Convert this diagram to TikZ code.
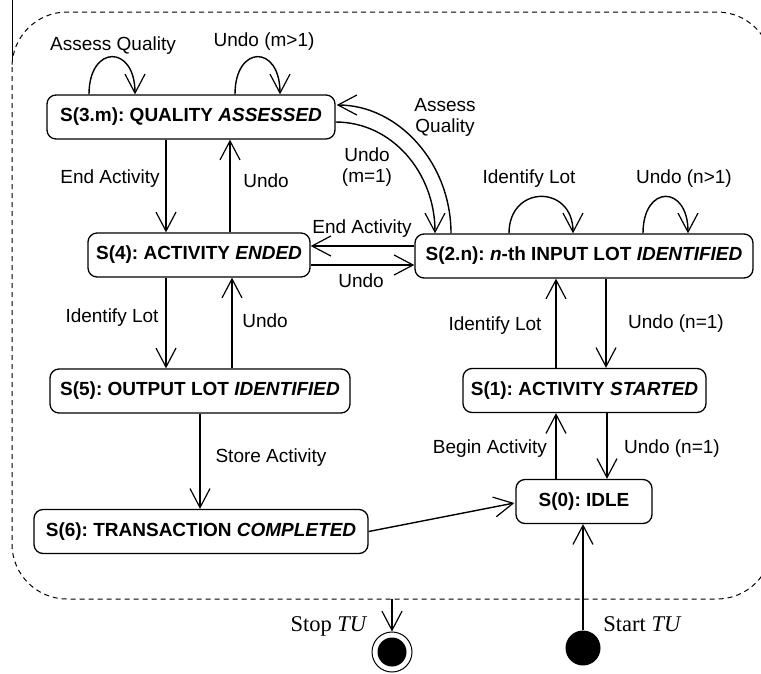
\documentclass[tikz,border=0pt]{standalone}
\usepackage{fontspec}
\setmainfont{Liberation Sans}
\newfontfamily\serifface{Liberation Serif}
\usetikzlibrary{arrows.meta,calc}

\tikzset{
  state/.style={draw, rounded corners=9pt, line width=1.3pt, minimum height=44pt,
    inner sep=0pt, font=\fontsize{19}{22}\selectfont\bfseries\frenchspacing},
  tr/.style={line width=1.4pt, -{Straight Barb[length=19pt,width=20pt,line width=1.2pt]}},
  lab/.style={font=\fontsize{19}{21}\selectfont, inner sep=0pt, align=center},
  ext/.style={font=\fontsize{22.5}{26}\selectfont\serifface, inner sep=0pt},
  frame/.style={line width=1pt, dash pattern=on 5pt off 4pt, rounded corners=55pt},
}

\begin{document}
\begin{tikzpicture}[x=1pt,y=-1pt]
\useasboundingbox (0,0) rectangle (761,673);
\clip (0,0) rectangle (761,673);

% enclosing super-state
\draw[frame] (12,12) rectangle (772,599);
\draw[line width=1pt] (12,0) -- (12,60);

% states
\node[state, minimum width=288pt] (s3) at (191,117) {S(3.m): QUALITY \textit{ASSESSED}};
\node[state, minimum width=222pt] (s4) at (199,255) {S(4): ACTIVITY \textit{ENDED}};
\node[state, minimum width=338pt] (s2) at (584,256) {S(2.n): \textit{n}-th INPUT LOT \textit{IDENTIFIED}};
\node[state, minimum width=300pt] (s5) at (200,391) {S(5): OUTPUT LOT \textit{IDENTIFIED}};
\node[state, minimum width=243pt] (s1) at (584.5,390.5) {S(1): ACTIVITY \textit{STARTED}};
\node[state, minimum width=136pt] (s0) at (584,501.5) {S(0): IDLE};
\node[state, minimum width=334pt] (s6) at (201,531.5) {S(6): TRANSACTION \textit{COMPLETED}};

% initial and final pseudo-states
\node[circle, fill, minimum size=35pt, inner sep=0pt] (start) at (583,648) {};
\node[circle, draw, line width=1pt, minimum size=40pt, inner sep=0pt] (stop) at (392,652) {};
\node[circle, fill, minimum size=29pt, inner sep=0pt] (stopdot) at (stop) {};
\coordinate (exitpt) at (392,599);

% self loops
\draw[tr] ([xshift=-102pt]s3.north) .. controls +(0,-50) and +(0,-50) .. ([xshift=-56pt]s3.north);
\draw[tr] ([xshift=44pt]s3.north) .. controls +(0,-50) and +(0,-50) .. ([xshift=89pt]s3.north);
\draw[tr] ([xshift=-75pt]s2.north) .. controls +(0,-49) and +(0,-49) .. ([xshift=-11pt]s2.north);
\draw[tr] ([xshift=59pt]s2.north) .. controls +(0,-49) and +(0,-49) .. ([xshift=104pt]s2.north);

% curved transitions between S(3.m) and S(2.n)
\draw[tr] ([yshift=-5pt]s3.east) .. controls +(56,0) and +(0,-61) .. ([xshift=-149pt]s2.north);
\draw[tr] ([xshift=-133pt]s2.north) .. controls +(0,-71) and +(61,0) .. ([yshift=12pt,xshift=1pt]s3.east);

% horizontal transitions between S(4) and S(2.n)
\draw[tr] ([yshift=10pt]s2.west) -- ([yshift=10pt]s2.west -| s4.east);
\draw[tr] ([yshift=-10pt]s4.east) -- ([yshift=-10pt]s4.east -| s2.west);

% vertical transitions, left column
\draw[tr] ([xshift=-25pt]s3.south) -- ([xshift=-25pt]s3.south |- s4.north);
\draw[tr] ([xshift=31pt]s4.north) -- ([xshift=31pt]s4.north |- s3.south);
\draw[tr] ([xshift=-33pt]s4.south) -- ([xshift=-33pt]s4.south |- s5.north);
\draw[tr] ([xshift=32pt]s5.north) -- ([xshift=32pt]s5.north |- s4.south);
\draw[tr] (s5.south) -- (s5.south |- s6.north);

% vertical transitions, right column
\draw[tr] ([xshift=-28.5pt]s1.north) -- ([xshift=-28.5pt]s1.north |- s2.south);
\draw[tr] ([xshift=22pt]s2.south) -- ([xshift=22pt]s2.south |- s1.north);
\draw[tr] ([xshift=-28pt]s0.north) -- ([xshift=-28pt]s0.north |- s1.south);
\draw[tr] ([xshift=22.5pt]s1.south) -- ([xshift=22.5pt]s1.south |- s0.north);

% completion back to idle
\draw[tr] (s6.east) -- ([yshift=-1.5pt,xshift=-1pt]s0.west);

% entry and exit of the super-state
\draw[tr] (start.north) -- (start.north |- s0.south);
\draw[tr] (exitpt) -- (stop.north);

% transition labels
\node[lab, anchor=base] (l1) at (113,50) {Assess Quality};
\node[lab, anchor=base] (l2) at (264,46) {Undo (m>1)};
\node[lab, anchor=base] (l3) at (529,183) {Identify Lot};
\node[lab, anchor=base] (l4) at (684,183) {Undo (n>1)};
\node[lab] (l5) at (445,117.5) {Assess\\Quality};
\node[lab] (l6) at (367,167.5) {Undo\\(m=1)};
\node[lab, anchor=base] (l7) at (362,233) {End Activity};
\node[lab, anchor=base] (l8) at (361,287) {Undo};
\node[lab, anchor=base] (l9) at (110,183) {End Activity};
\node[lab, anchor=base] (l10) at (266,187) {Undo};
\node[lab, anchor=base] (l11) at (112,322) {Identify Lot};
\node[lab, anchor=base] (l12) at (265,327) {Undo};
\node[lab, anchor=base] (l13) at (271,462) {Store Activity};
\node[lab, anchor=base] (l14) at (495,330) {Identify Lot};
\node[lab, anchor=base] (l15) at (676,328) {Undo (n=1)};
\node[lab, anchor=base] (l16) at (490,453) {Begin Activity};
\node[lab, anchor=base] (l17) at (672,453) {Undo (n=1)};
\node[ext, anchor=base] (l18) at (329,631) {Stop \textit{TU}};
\node[ext, anchor=base] (l19) at (642.5,631) {Start \textit{TU}};
\end{tikzpicture}
\end{document}
